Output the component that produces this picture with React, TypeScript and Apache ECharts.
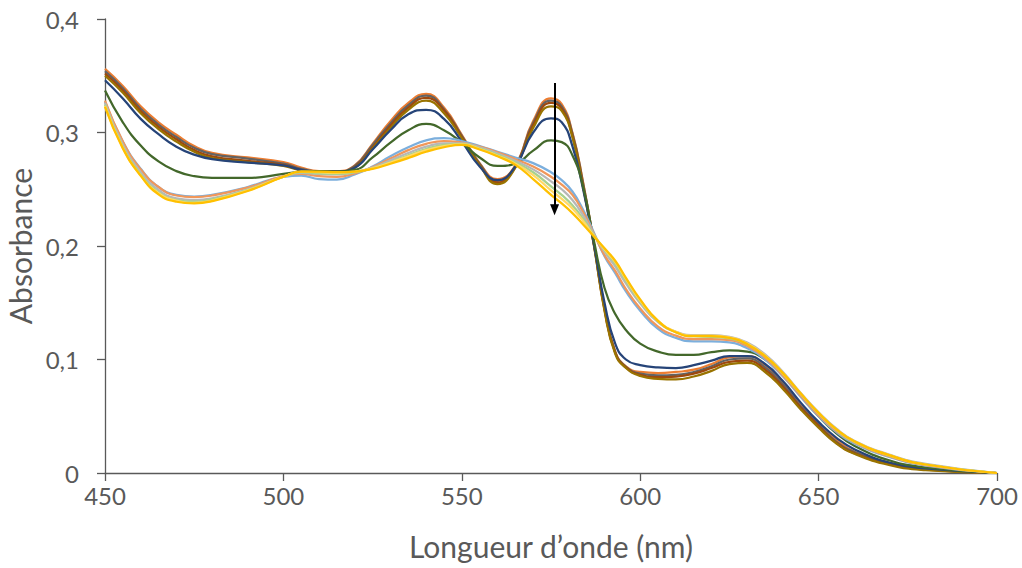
import React, { useEffect, useRef } from "react";
import * as echarts from "echarts";

const wavelengths = [450, 455, 460, 465, 470, 475, 480, 490, 500, 505, 510, 515, 520, 525, 530, 535, 540, 545, 550, 555, 560, 565, 570, 575, 578, 581, 584, 587, 590, 593, 596, 600, 605, 610, 615, 620, 625, 630, 635, 640, 645, 650, 655, 660, 670, 680, 700];

// Initial spectra (dense brown band)
const initial1 = [0.356, 0.341, 0.323, 0.309, 0.298, 0.288, 0.282, 0.278, 0.274, 0.269, 0.266, 0.266, 0.271, 0.290, 0.310, 0.326, 0.334, 0.322, 0.298, 0.273, 0.259, 0.271, 0.310, 0.330, 0.325, 0.300, 0.256, 0.203, 0.146, 0.107, 0.094, 0.089, 0.088, 0.089, 0.091, 0.096, 0.102, 0.103, 0.095, 0.080, 0.060, 0.044, 0.029, 0.019, 0.009, 0.004, 0.0];
const initial2 = [0.354, 0.339, 0.321, 0.307, 0.296, 0.2865, 0.281, 0.277, 0.2725, 0.268, 0.2655, 0.2655, 0.2705, 0.289, 0.308, 0.324, 0.3325, 0.3205, 0.297, 0.2725, 0.2575, 0.2705, 0.3085, 0.328, 0.323, 0.299, 0.255, 0.2025, 0.145, 0.1065, 0.0935, 0.0875, 0.086, 0.0865, 0.089, 0.094, 0.100, 0.101, 0.093, 0.078, 0.0585, 0.0425, 0.0275, 0.0185, 0.0085, 0.0035, 0.0];
const initial3 = [0.352, 0.337, 0.319, 0.305, 0.294, 0.2845, 0.279, 0.275, 0.2715, 0.267, 0.265, 0.265, 0.2695, 0.287, 0.306, 0.322, 0.3305, 0.3195, 0.296, 0.2715, 0.256, 0.2695, 0.3065, 0.326, 0.321, 0.297, 0.253, 0.2015, 0.144, 0.106, 0.093, 0.0865, 0.0845, 0.085, 0.0875, 0.0925, 0.098, 0.099, 0.091, 0.076, 0.0575, 0.0415, 0.0265, 0.0175, 0.0075, 0.003, 0.0];
const initial4 = [0.350, 0.335, 0.317, 0.303, 0.292, 0.283, 0.2775, 0.274, 0.2705, 0.2665, 0.265, 0.265, 0.269, 0.286, 0.304, 0.320, 0.328, 0.317, 0.295, 0.271, 0.2545, 0.269, 0.304, 0.323, 0.319, 0.296, 0.252, 0.201, 0.143, 0.105, 0.0925, 0.0855, 0.083, 0.0825, 0.085, 0.090, 0.096, 0.097, 0.089, 0.074, 0.056, 0.040, 0.026, 0.017, 0.007, 0.0025, 0.0];

// Intermediate spectra
const blueCurve = [0.346, 0.330, 0.312, 0.2985, 0.2875, 0.2805, 0.2765, 0.2735, 0.271, 0.267, 0.2655, 0.2655, 0.269, 0.285, 0.302, 0.316, 0.320, 0.312, 0.292, 0.270, 0.258, 0.270, 0.300, 0.3125, 0.309, 0.288, 0.250, 0.202, 0.150, 0.114, 0.100, 0.095, 0.093, 0.0925, 0.095, 0.099, 0.103, 0.103, 0.096, 0.081, 0.062, 0.045, 0.031, 0.021, 0.009, 0.004, 0.0];
const greenCurve = [0.337, 0.309, 0.2885, 0.2745, 0.266, 0.2615, 0.260, 0.260, 0.2635, 0.2655, 0.266, 0.2655, 0.267, 0.278, 0.291, 0.302, 0.3075, 0.302, 0.291, 0.278, 0.2705, 0.2725, 0.284, 0.293, 0.2915, 0.280, 0.252, 0.205, 0.163, 0.140, 0.126, 0.114, 0.107, 0.104, 0.104, 0.1065, 0.108, 0.107, 0.100, 0.087, 0.068, 0.050, 0.035, 0.024, 0.011, 0.005, 0.0];

// Final spectra (light band)
const final1 = [0.327, 0.292, 0.268, 0.252, 0.245, 0.2435, 0.245, 0.252, 0.261, 0.262, 0.259, 0.2585, 0.263, 0.270, 0.279, 0.287, 0.293, 0.295, 0.2925, 0.288, 0.283, 0.278, 0.273, 0.265, 0.258, 0.248, 0.232, 0.212, 0.191, 0.176, 0.160, 0.143, 0.127, 0.119, 0.116, 0.116, 0.115, 0.110, 0.100, 0.085, 0.067, 0.050, 0.036, 0.026, 0.014, 0.0065, 0.0];
const final2 = [0.328, 0.292, 0.2675, 0.252, 0.2445, 0.243, 0.2445, 0.2515, 0.2615, 0.2635, 0.2615, 0.261, 0.264, 0.2695, 0.277, 0.2845, 0.290, 0.2925, 0.291, 0.2875, 0.2825, 0.2765, 0.270, 0.261, 0.254, 0.245, 0.230, 0.211, 0.192, 0.178, 0.162, 0.145, 0.129, 0.121, 0.118, 0.118, 0.117, 0.112, 0.1015, 0.086, 0.068, 0.051, 0.037, 0.027, 0.0145, 0.007, 0.0];
const final3 = [0.326, 0.2895, 0.265, 0.2495, 0.242, 0.2405, 0.242, 0.250, 0.261, 0.2645, 0.2635, 0.263, 0.265, 0.269, 0.2755, 0.282, 0.2875, 0.2905, 0.2905, 0.287, 0.2815, 0.275, 0.2675, 0.257, 0.250, 0.2405, 0.227, 0.2105, 0.195, 0.182, 0.167, 0.1495, 0.133, 0.1245, 0.1215, 0.1215, 0.120, 0.115, 0.1045, 0.089, 0.0705, 0.0535, 0.039, 0.0285, 0.016, 0.008, 0.0];
const final4 = [0.3245, 0.2875, 0.263, 0.2475, 0.2405, 0.239, 0.241, 0.2495, 0.261, 0.265, 0.264, 0.2635, 0.265, 0.2685, 0.274, 0.280, 0.2855, 0.289, 0.290, 0.286, 0.2805, 0.2735, 0.265, 0.2525, 0.245, 0.236, 0.224, 0.2095, 0.1965, 0.1845, 0.1695, 0.151, 0.1335, 0.124, 0.1205, 0.120, 0.1185, 0.1135, 0.103, 0.0875, 0.0695, 0.0525, 0.038, 0.0275, 0.0152, 0.0075, 0.0];
const final5 = [0.3235, 0.2865, 0.262, 0.2465, 0.240, 0.238, 0.240, 0.249, 0.261, 0.2655, 0.265, 0.2645, 0.2655, 0.2685, 0.2735, 0.279, 0.2845, 0.288, 0.2895, 0.2855, 0.2795, 0.2725, 0.2625, 0.249, 0.2415, 0.233, 0.222, 0.209, 0.197, 0.186, 0.171, 0.152, 0.134, 0.1245, 0.121, 0.121, 0.1195, 0.114, 0.1035, 0.088, 0.070, 0.053, 0.0385, 0.028, 0.0155, 0.0075, 0.0];
const final6 = [0.3225, 0.286, 0.262, 0.2455, 0.239, 0.2375, 0.2395, 0.2485, 0.261, 0.2655, 0.2655, 0.265, 0.2655, 0.268, 0.2725, 0.2775, 0.283, 0.287, 0.289, 0.285, 0.279, 0.2715, 0.259, 0.245, 0.2375, 0.229, 0.219, 0.2085, 0.198, 0.187, 0.172, 0.153, 0.134, 0.124, 0.1205, 0.1205, 0.119, 0.1135, 0.103, 0.088, 0.070, 0.053, 0.0385, 0.028, 0.0155, 0.0075, 0.0];

const curveValues = [initial1, initial2, initial3, initial4, blueCurve, greenCurve, final1, final2, final3, final4, final5, final6];
const curveColors = ["#ED7D31", "#636363", "#9E480E", "#997300", "#264478", "#43682B", "#7CAFDD", "#F1975A", "#B7B7B7", "#A9D18E", "#FFD966", "#FFC000"];

// Arrow (wavelength, start absorbance, end absorbance)
const arrowWavelength = 576;
const arrowFrom = 0.3436;
const arrowTo = 0.232;

const yTicks = [0, 0.1, 0.2, 0.3, 0.4];

const FONT = "Lato, 'Open Sans', sans-serif";
const TEXT = "#595959";

export default function App() {
  const ref = useRef<HTMLDivElement>(null);
  useEffect(() => {
    if (!ref.current) return;
    const chart = echarts.init(ref.current, undefined, { renderer: "svg" });
    const series: any[] = curveValues.map((vals, i) => ({
      type: "line",
      data: wavelengths.map((w, k) => [w, vals[k]]),
      smooth: 0.5,
      symbol: "none",
      silent: true,
      lineStyle: { color: curveColors[i], width: 2.25 },
      itemStyle: { color: curveColors[i] },
    }));
    series.push({
      type: "line",
      data: [],
      symbol: "none",
      silent: true,
      itemStyle: { color: "#000" },
      markLine: {
        silent: true,
        symbol: ["none", "triangle"],
        symbolSize: [9, 11],
        label: { show: false },
        itemStyle: { color: "#000" },
        lineStyle: { color: "#000", width: 2, type: "solid" },
        data: [[{ coord: [arrowWavelength, arrowFrom] }, { coord: [arrowWavelength, arrowTo] }]],
      },
    });
    chart.setOption({
      animation: false,
      backgroundColor: "#fff",
      grid: { left: 105, right: 25, top: 19, bottom: 95, containLabel: false, outerBoundsMode: "none" },
      xAxis: {
        type: "value",
        min: 450,
        max: 700,
        interval: 50,
        name: "Longueur d’onde (nm)",
        nameLocation: "middle",
        nameGap: 58,
        nameTextStyle: { fontSize: 30, color: TEXT, fontFamily: FONT },
        axisLine: { show: true, onZero: false, lineStyle: { color: "#595959", width: 1.3 } },
        axisTick: { show: true, inside: false, length: 8, lineStyle: { color: "#595959", width: 1.3 } },
        axisLabel: { fontSize: 24, color: TEXT, margin: 10, fontFamily: FONT },
        splitLine: { show: false },
      },
      yAxis: {
        type: "value",
        min: 0,
        max: 0.4,
        interval: 0.1,
        name: "Absorbance",
        nameLocation: "middle",
        nameGap: 66,
        nameTextStyle: { fontSize: 30, color: TEXT, fontFamily: FONT },
        axisLine: { show: true, lineStyle: { color: "#595959", width: 1.3 } },
        axisTick: { show: true, inside: false, length: 8, lineStyle: { color: "#595959", width: 1.3 } },
        axisLabel: {
          fontSize: 24,
          color: TEXT,
          margin: 26,
          fontFamily: FONT,
          formatter: (v: number) => {
            const t = yTicks.find((x) => Math.abs(x - v) < 1e-9);
            const val = t === undefined ? v : t;
            return val === 0 ? "0" : val.toFixed(1).replace(".", ",");
          },
        },
        splitLine: { show: false },
      },
      series,
    });
    return () => chart.dispose();
  }, []);
  return <div ref={ref} style={{ position: "fixed", left: 0, top: 0, width: 1022, height: 568 }} />;
}
